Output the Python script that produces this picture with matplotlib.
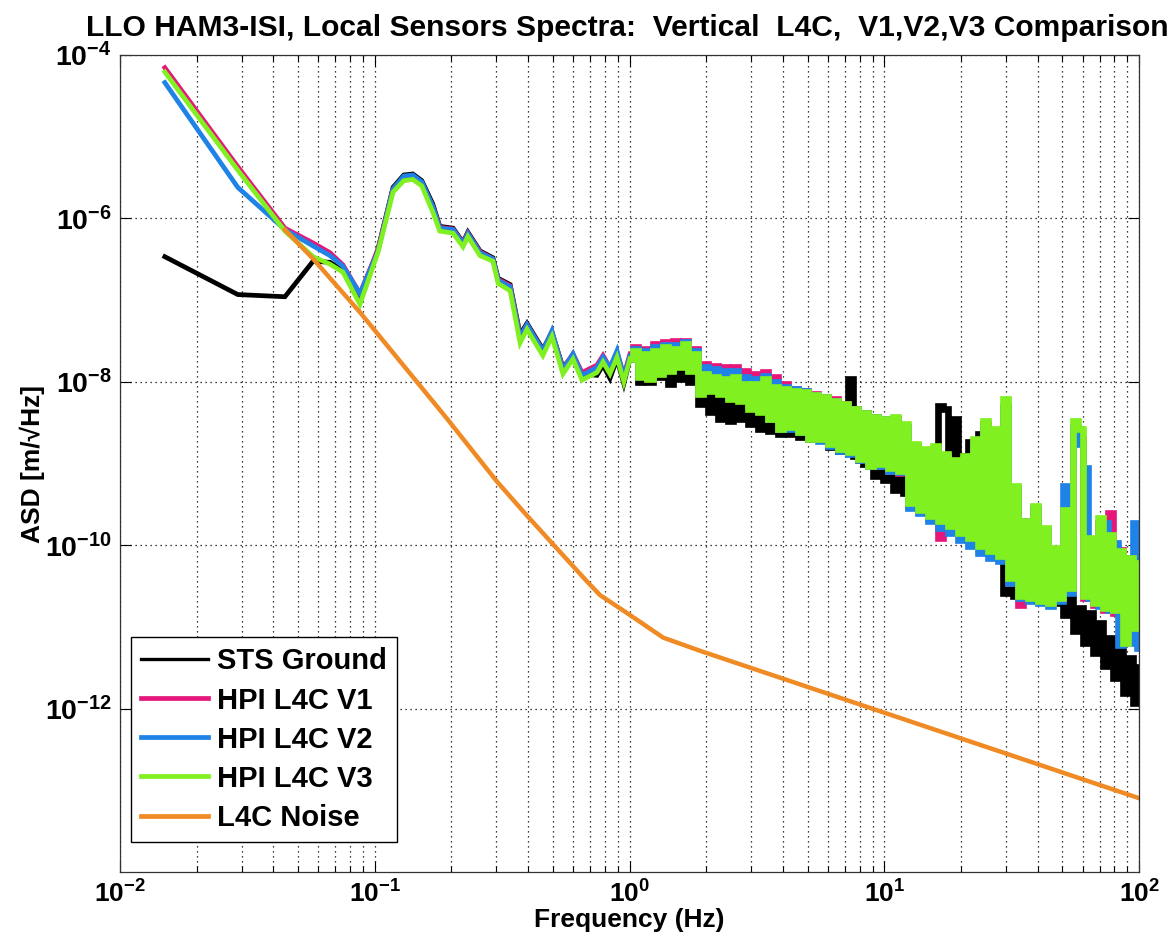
import math
import matplotlib
matplotlib.use("Agg")
import matplotlib.pyplot as plt
from matplotlib.lines import Line2D
from matplotlib.ticker import LogLocator, NullLocator, FuncFormatter

plt.rcParams["font.family"] = ["Liberation Sans", "DejaVu Sans"]
plt.rcParams["font.weight"] = "bold"
plt.rcParams["mathtext.fontset"] = "custom"
plt.rcParams["mathtext.rm"] = "Liberation Sans:bold"
plt.rcParams["mathtext.bf"] = "Liberation Sans:bold"
plt.rcParams["mathtext.it"] = "Liberation Sans:bold"

# --- data (Hz, m/rtHz) ---
# low-frequency part (smooth)
f_lo = [0.015, 0.029, 0.0444, 0.0573, 0.0668, 0.075, 0.0875, 0.103, 0.118, 0.130,
        0.141, 0.153, 0.169, 0.180, 0.203, 0.222, 0.232, 0.259, 0.291, 0.305,
        0.340, 0.372, 0.396, 0.457, 0.496, 0.548, 0.600, 0.651, 0.745, 0.787,
        0.838, 0.893, 0.95]

sts_lo = [3.4e-7, 1.17e-7, 1.1e-7, 3.0e-7, 2.9e-7, 2.3e-7, 1.0e-7, 4.2e-7, 2.4e-6, 3.4e-6,
          3.5e-6, 2.9e-6, 1.5e-6, 8.0e-7, 7.6e-7, 5.1e-7, 6.8e-7, 4.0e-7, 3.3e-7, 1.85e-7,
          1.55e-7, 3.8e-8, 5.2e-8, 2.5e-8, 4.0e-8, 1.5e-8, 2.1e-8, 1.25e-8, 1.2e-8, 1.6e-8,
          1.1e-8, 1.9e-8, 9.5e-9]
v1_lo = [7.0e-5, 4.3e-6, 7.6e-7, 5.0e-7, 3.8e-7, 2.7e-7, 1.2e-7, 4.2e-7, 2.3e-6, 3.2e-6,
         3.3e-6, 2.7e-6, 1.4e-6, 7.8e-7, 7.4e-7, 5.0e-7, 6.6e-7, 3.9e-7, 3.2e-7, 1.8e-7,
         1.5e-7, 3.6e-8, 5.0e-8, 2.4e-8, 4.1e-8, 1.45e-8, 2.2e-8, 1.3e-8, 1.6e-8, 2.1e-8,
         1.5e-8, 2.3e-8, 1.2e-8]
v2_lo = [4.6e-5, 2.4e-6, 7.3e-7, 4.6e-7, 3.5e-7, 2.6e-7, 1.2e-7, 4.0e-7, 2.3e-6, 3.3e-6,
         3.4e-6, 2.8e-6, 1.4e-6, 7.6e-7, 7.3e-7, 4.9e-7, 6.5e-7, 3.8e-7, 3.2e-7, 1.75e-7,
         1.45e-7, 3.5e-8, 5.0e-8, 2.4e-8, 4.2e-8, 1.4e-8, 2.2e-8, 1.2e-8, 1.5e-8, 2.0e-8,
         1.5e-8, 2.4e-8, 1.15e-8]
v3_lo = [6.2e-5, 3.9e-6, 7.0e-7, 3.4e-7, 2.75e-7, 2.2e-7, 8.9e-8, 3.85e-7, 2.1e-6, 2.9e-6,
         3.0e-6, 2.5e-6, 1.2e-6, 7.0e-7, 6.6e-7, 4.5e-7, 6.0e-7, 3.5e-7, 3.0e-7, 1.6e-7,
         1.3e-7, 3.0e-8, 4.4e-8, 2.1e-8, 3.6e-8, 1.25e-8, 1.9e-8, 1.05e-8, 1.3e-8, 1.75e-8,
         1.25e-8, 2.0e-8, 1.0e-8]

# high-frequency part (dense, noisy)
f_hi = [1.004, 1.051, 1.099, 1.150, 1.203, 1.259, 1.317, 1.378, 1.442, 1.509,
        1.578, 1.651, 1.728, 1.807, 1.891, 1.978, 2.070, 2.166, 2.266, 2.371,
        2.480, 2.595, 2.715, 2.841, 2.972, 3.109, 3.253, 3.404, 3.561, 3.726,
        3.898, 4.078, 4.267, 4.464, 4.670, 4.886, 5.112, 5.348, 5.596, 5.854,
        6.125, 6.408, 6.705, 7.015, 7.339, 7.678, 8.033, 8.405, 8.793, 9.200,
        9.625, 10.07, 10.54, 11.02, 11.53, 12.07, 12.62, 13.21, 13.82, 14.46,
        15.13, 15.83, 16.56, 17.32, 18.12, 18.96, 19.84, 20.75, 21.71, 22.72,
        23.77, 24.87, 26.02, 27.22, 28.48, 29.79, 31.17, 32.61, 34.12, 35.70,
        37.35, 39.07, 40.88, 42.77, 44.75, 46.81, 48.98, 51.24, 53.61, 56.09,
        58.68, 61.39, 64.23, 67.20, 70.30, 73.56, 76.96, 80.51, 84.24, 88.13,
        92.20, 96.46, 100.0]

sts_hi = [1.91e-8, 2.38e-8, 1.0e-8, 1.66e-8, 1.0e-8, 1.8e-8, 1.15e-8, 2.19e-8, 9.5e-9, 2.0e-8,
          1.09e-8, 2.38e-8, 1.0e-8, 1.66e-8, 5.4e-9, 8.2e-9, 4.32e-9, 7.1e-9, 3.54e-9, 6.56e-9,
          3.35e-9, 6.2e-9, 3.54e-9, 5.7e-9, 3.08e-9, 5.4e-9, 2.67e-9, 4.7e-9, 2.52e-9, 4.45e-9,
          2.32e-9, 4.1e-9, 2.32e-9, 4.1e-9, 2.14e-9, 3.75e-9, 2.02e-9, 3.75e-9, 2.02e-9, 3.54e-9,
          1.61e-9, 3.54e-9, 1.44e-9, 3.08e-9, 1.09e-8, 1.25e-9, 2.67e-9, 1.0e-9, 2.02e-9, 7.0e-10,
          1.75e-9, 6.2e-10, 1.32e-9, 4.7e-10, 1.15e-9, 4.3e-10, 8.7e-10, 4.96e-10, 1.09e-9, 5.7e-10,
          1.0e-9, 3.74e-10, 5.1e-9, 4.7e-9, 3.25e-10, 3.54e-9, 2.82e-10, 1.25e-9, 1.85e-9, 2.13e-10,
          2.32e-9, 1.61e-10, 1.91e-9, 1.22e-10, 1.06e-10, 2.59e-11, 6.9e-11, 2.38e-11, 5.2e-11, 2.25e-11,
          4.55e-11, 2.25e-11, 3.43e-11, 2.06e-11, 2.98e-11, 1.95e-11, 2.59e-11, 1.39e-11, 2.25e-11, 8.9e-12,
          1.7e-11, 6.35e-12, 1.47e-11, 4.8e-12, 1.11e-11, 3.3e-12, 7.3e-12, 2.4e-12, 5.5e-12, 1.55e-12,
          4.2e-12, 1.18e-12, 3.2e-12]
v1_hi = [2.19e-8, 2.67e-8, 1.25e-8, 2.52e-8, 1.15e-8, 2.9e-8, 1.36e-8, 3.07e-8, 1.44e-8, 3.16e-8,
         1.66e-8, 3.16e-8, 1.44e-8, 2.52e-8, 8.2e-9, 1.66e-8, 9.5e-9, 1.57e-8, 8.2e-9, 1.52e-8,
         7.1e-9, 1.52e-8, 6.56e-9, 1.36e-8, 5.4e-9, 1.25e-8, 4.7e-9, 1.32e-8, 3.75e-9, 1.15e-8,
         2.82e-9, 9.5e-9, 2.82e-9, 8.2e-9, 2.52e-9, 7.75e-9, 2.14e-9, 7.1e-9, 2.02e-9, 6.56e-9,
         1.75e-9, 6.2e-9, 1.52e-9, 5.4e-9, 1.4e-9, 4.7e-9, 1.09e-9, 4.1e-9, 9.2e-10, 3.75e-9,
         9.45e-10, 3.54e-9, 8.2e-10, 3.54e-9, 7.6e-10, 2.67e-9, 2.98e-10, 1.61e-9, 2.52e-10, 1.44e-9,
         2.13e-10, 1.52e-9, 1.22e-10, 1.25e-9, 1.61e-10, 1.0e-9, 1.4e-10, 1.15e-9, 1.22e-10, 1.75e-9,
         9.7e-11, 3.08e-9, 8.45e-11, 2.32e-9, 6.9e-11, 4.7e-9, 3.43e-11, 4.96e-10, 1.84e-11, 1.85e-10,
         2.25e-11, 2.82e-10, 2.06e-11, 1.52e-10, 1.95e-11, 8.7e-11, 2.25e-11, 2.45e-10, 2.8e-11, 2.67e-9,
         2.02e-9, 2.25e-11, 1.06e-10, 1.84e-11, 1.85e-10, 1.61e-11, 2.45e-10, 1.47e-11, 8.7e-11, 7.3e-12,
         6.9e-11, 1.03e-11, 6.0e-11]
v2_hi = [2.07e-8, 2.52e-8, 1.22e-8, 2.38e-8, 1.12e-8, 2.67e-8, 1.32e-8, 2.82e-8, 1.4e-8, 2.82e-8,
         1.57e-8, 3.07e-8, 1.4e-8, 2.38e-8, 7.5e-9, 1.52e-8, 8.2e-9, 1.44e-8, 7.5e-9, 1.36e-8,
         6.56e-9, 1.36e-8, 6.2e-9, 1.15e-8, 5.1e-9, 1.09e-8, 4.45e-9, 1.18e-8, 3.54e-9, 1.0e-8,
         2.67e-9, 8.68e-9, 2.67e-9, 8.2e-9, 2.4e-9, 7.75e-9, 2.02e-9, 6.9e-9, 1.91e-9, 6.56e-9,
         1.65e-9, 5.86e-9, 1.44e-9, 5.25e-9, 1.32e-9, 4.7e-9, 1.09e-9, 4.2e-9, 9.2e-10, 3.75e-9,
         9.2e-10, 3.54e-9, 8.2e-10, 3.54e-9, 7.8e-10, 2.82e-9, 2.82e-10, 1.65e-9, 2.45e-10, 1.44e-9,
         2.0e-10, 1.52e-9, 1.61e-10, 1.25e-9, 1.4e-10, 1.0e-9, 1.15e-10, 1.09e-9, 9.7e-11, 1.75e-9,
         8.0e-11, 2.82e-9, 6.9e-11, 2.32e-9, 6.35e-11, 5.1e-9, 3.43e-11, 4.96e-10, 2.25e-11, 1.96e-10,
         2.06e-11, 2.82e-10, 1.95e-11, 1.52e-10, 1.78e-11, 8.7e-11, 2.06e-11, 5.25e-10, 2.59e-11, 2.82e-9,
         1.75e-9, 8.7e-10, 2.25e-11, 1.06e-10, 1.78e-11, 1.85e-10, 1.61e-11, 1.06e-10, 6.0e-12, 6.9e-11,
         6.35e-12, 1.85e-10, 5.5e-12]
v3_hi = [1.91e-8, 2.38e-8, 1.15e-8, 2.19e-8, 1.09e-8, 2.38e-8, 1.25e-8, 2.67e-8, 1.36e-8, 2.52e-8,
         1.52e-8, 2.9e-8, 1.36e-8, 2.19e-8, 7.1e-9, 1.25e-8, 7.75e-9, 1.15e-8, 7.1e-9, 1.09e-8,
         6.2e-9, 1.15e-8, 5.86e-9, 9.5e-9, 4.7e-9, 9.5e-9, 4.32e-9, 1.09e-8, 3.54e-9, 8.68e-9,
         2.67e-9, 8.2e-9, 2.82e-9, 7.75e-9, 2.45e-9, 7.5e-9, 2.02e-9, 6.9e-9, 2.02e-9, 6.56e-9,
         1.75e-9, 5.86e-9, 1.52e-9, 5.4e-9, 1.4e-9, 4.7e-9, 1.15e-9, 4.2e-9, 9.45e-10, 3.75e-9,
         1.0e-9, 3.54e-9, 8.7e-10, 3.75e-9, 8.2e-10, 3.08e-9, 3.25e-10, 1.75e-9, 2.67e-10, 1.52e-9,
         2.25e-10, 1.65e-9, 1.96e-10, 1.32e-9, 1.7e-10, 1.09e-9, 1.4e-10, 1.25e-9, 1.22e-10, 2.02e-9,
         9.7e-11, 3.35e-9, 8.45e-11, 2.67e-9, 7.3e-11, 6.2e-9, 3.95e-11, 5.25e-10, 2.38e-11, 2.0e-10,
         2.25e-11, 2.98e-10, 2.06e-11, 1.61e-10, 1.95e-11, 9.2e-11, 2.25e-11, 2.67e-10, 2.98e-11, 3.35e-9,
         2.67e-9, 2.38e-11, 1.22e-10, 1.95e-11, 2.13e-10, 1.7e-11, 1.32e-10, 1.61e-11, 8.45e-11, 6.35e-12,
         6.9e-11, 9.7e-12, 6.0e-11]

# L4C sensor noise model
f_noise = [0.0444, 0.0573, 0.0875, 0.192, 0.302, 0.396, 0.519, 0.681, 0.766, 0.977, 1.355, 1.89, 100.0]
asd_noise = [7.3e-7, 3.2e-7, 7.1e-8, 3.55e-9, 6.0e-10, 2.3e-10, 9.1e-11, 3.6e-11, 2.45e-11,
             1.48e-11, 7.4e-12, 5.1e-12, 8.0e-14]

labels = ["STS Ground", "HPI L4C V1", "HPI L4C V2", "HPI L4C V3", "L4C Noise"]
colors = ["#000000", "#E6177A", "#1E82E6", "#80F020", "#F08A24"]

# ------------------------------------------------------------------ plot ---
fig = plt.figure(figsize=(11.75, 9.36), dpi=100)
ax = fig.add_axes([0.1021, 0.0684, 0.8673, 0.8728])
ax.set_xscale("log")
ax.set_yscale("log")

series = [(sts_lo, sts_hi), (v1_lo, v1_hi), (v2_lo, v2_hi), (v3_lo, v3_hi)]
for (lo, hi), c in zip(series, colors[:4]):
    ax.plot(f_lo + f_hi[:1], lo + hi[:1], color=c, lw=3.4, solid_joinstyle="miter")
    ax.plot(f_hi, hi, color=c, lw=4.8, drawstyle="steps-mid",
            solid_joinstyle="miter", solid_capstyle="butt")
ax.plot(f_noise, asd_noise, color=colors[4], lw=3.2)

ax.set_xlim(0.01, 100)
ax.set_ylim(1e-14, 1e-4)

ax.xaxis.set_major_locator(LogLocator(base=10, numticks=10))
ax.xaxis.set_minor_locator(LogLocator(base=10, subs=range(2, 10), numticks=20))
ax.set_yticks([1e-12, 1e-10, 1e-8, 1e-6, 1e-4])
ax.yaxis.set_minor_locator(NullLocator())

fmt = FuncFormatter(lambda v, p: r"$\mathbf{10^{%d}}$" % round(math.log10(v)))
ax.xaxis.set_major_formatter(fmt)
ax.yaxis.set_major_formatter(fmt)
ax.tick_params(which="both", direction="in", top=True, right=True, width=0.8)
ax.tick_params(which="major", length=8, pad=6)
ax.tick_params(which="minor", length=4)
ax.tick_params(axis="x", labelsize=19)
ax.tick_params(axis="y", labelsize=20.5)

dots = (0, (1, 3))
ax.grid(True, which="major", ls=dots, color="k", lw=0.9)
ax.grid(True, which="minor", axis="x", ls=dots, color="k", lw=0.9)
ax.set_axisbelow(True)
for s in ax.spines.values():
    s.set_linewidth(0.9)
    s.set_color("#333333")

ax.set_xlabel("Frequency (Hz)", fontsize=19, fontweight="bold", labelpad=0)
ax.set_ylabel("ASD [m/\u221aHz]", fontsize=19, fontweight="bold", labelpad=0)
fig.text(0.534, 0.962, "LLO HAM3-ISI, Local Sensors Spectra:  Vertical  L4C,  V1,V2,V3 Comparison",
         ha="center", va="baseline", fontsize=21.6, fontweight="bold")

handles = [Line2D([], [], color=c, lw=(2.4 if i == 0 else 3.4)) for i, c in enumerate(colors)]
leg = ax.legend(handles, labels, loc="lower left", bbox_to_anchor=(0.0108, 0.0367),
                borderaxespad=0, fontsize=21, frameon=True, fancybox=False,
                framealpha=1, edgecolor="black", handlelength=2.3, handletextpad=0.3,
                labelspacing=0.38, borderpad=0.35)
leg.get_frame().set_linewidth(1.0)
for t in leg.get_texts():
    t.set_fontweight("bold")

fig.savefig("out.png", dpi=100)
